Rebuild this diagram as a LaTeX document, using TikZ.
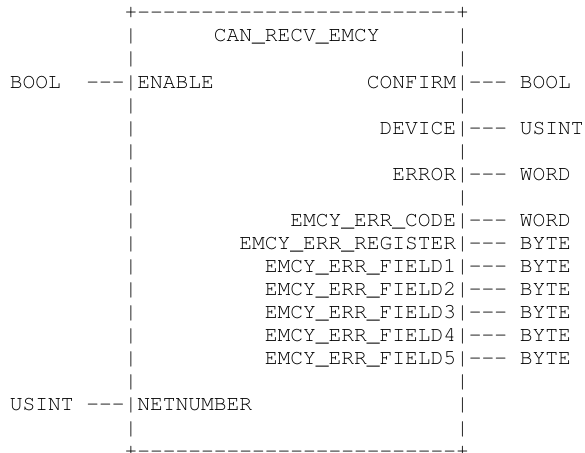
\documentclass[tikz,border=0pt]{standalone}
\usepackage[T1]{fontenc}
\usepackage{courier}
\def\xo{9.9}
\def\cw{12.75}
\def\yo{18.8}
\def\rh{23.07}
\newcommand\putat[4]{\node[txt] (#1) at ({\xo+#3*\cw},{-\yo-#2*\rh}) {#4};}
\newcommand\dsh{-{}-{}-{}}
\newcommand\border{+\dsh\dsh\dsh\dsh\dsh\dsh\dsh\dsh-{}+}
\begin{document}
\begin{tikzpicture}[x=1pt,y=1pt,
  txt/.style={inner sep=0pt, outer sep=0pt, anchor=base west,
    font=\fontfamily{pcr}\fontsize{21.25}{23}\selectfont}]
\useasboundingbox (0,0) rectangle (585,-452);
% borders
\putat{top}{0}{9}{\border}
\putat{bot}{19}{9}{\border}
\foreach \r in {1,...,18}{
  \putat{lb\r}{\r}{9}{|}
  \putat{rb\r}{\r}{35}{|}
}
% title
\putat{title}{1}{16}{CAN\_RECV\_EMCY}
% inputs
\putat{tEn}{3}{0}{BOOL}
\putat{cEn}{3}{6}{\dsh}
\putat{pEn}{3}{10}{ENABLE}
\putat{tNet}{17}{0}{USINT}
\putat{cNet}{17}{6}{\dsh}
\putat{pNet}{17}{10}{NETNUMBER}
% outputs
\putat{pConf}{3}{28}{CONFIRM}
\putat{cConf}{3}{36}{\dsh}
\putat{tConf}{3}{40}{BOOL}
\putat{pDev}{5}{29}{DEVICE}
\putat{cDev}{5}{36}{\dsh}
\putat{tDev}{5}{40}{USINT}
\putat{pErr}{7}{30}{ERROR}
\putat{cErr}{7}{36}{\dsh}
\putat{tErr}{7}{40}{WORD}
\putat{pCode}{9}{22}{EMCY\_ERR\_CODE}
\putat{cCode}{9}{36}{\dsh}
\putat{tCode}{9}{40}{WORD}
\putat{pReg}{10}{18}{EMCY\_ERR\_REGISTER}
\putat{cReg}{10}{36}{\dsh}
\putat{tReg}{10}{40}{BYTE}
\foreach \n/\r in {1/11,2/12,3/13,4/14,5/15}{
  \putat{pF\n}{\r}{20}{EMCY\_ERR\_FIELD\n}
  \putat{cF\n}{\r}{36}{\dsh}
  \putat{tF\n}{\r}{40}{BYTE}
}
\end{tikzpicture}
\end{document}
